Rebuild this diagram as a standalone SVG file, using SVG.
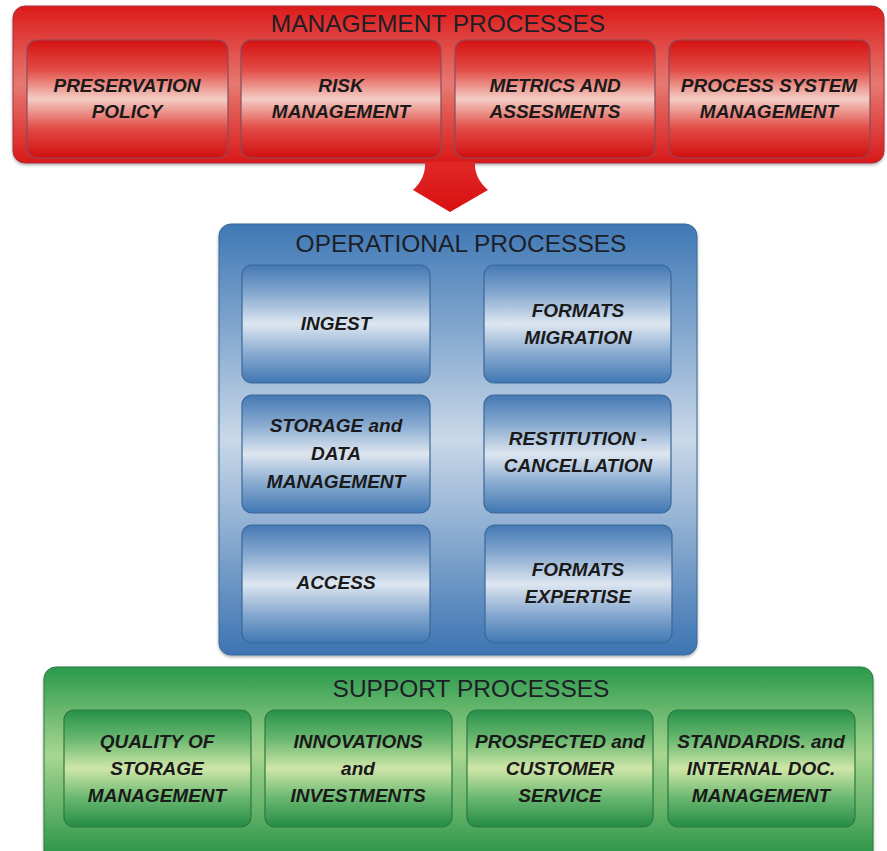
<svg xmlns="http://www.w3.org/2000/svg" width="887" height="851" viewBox="0 0 887 851">
<defs>
<linearGradient id="rOut" x1="0" y1="0" x2="0" y2="1">
<stop offset="0" stop-color="#dc1a1a"/><stop offset="0.5" stop-color="#e67a72"/><stop offset="1" stop-color="#d81818"/>
</linearGradient>
<linearGradient id="rIn" x1="0" y1="0" x2="0" y2="1">
<stop offset="0" stop-color="#d51212"/><stop offset="0.25" stop-color="#e24a44"/><stop offset="0.5" stop-color="#f3cdc4"/><stop offset="0.75" stop-color="#e24a44"/><stop offset="1" stop-color="#d01010"/>
</linearGradient>
<linearGradient id="rArr" x1="0" y1="0" x2="0" y2="1">
<stop offset="0" stop-color="#e02828"/><stop offset="1" stop-color="#d81010"/>
</linearGradient>
<linearGradient id="bOut" x1="0" y1="0" x2="0" y2="1">
<stop offset="0" stop-color="#3f78b5"/><stop offset="0.5" stop-color="#c9d8e8"/><stop offset="1" stop-color="#3c74b2"/>
</linearGradient>
<linearGradient id="bIn" x1="0" y1="0" x2="0" y2="1">
<stop offset="0" stop-color="#4479b4"/><stop offset="0.25" stop-color="#88aad0"/><stop offset="0.5" stop-color="#dde6f0"/><stop offset="0.75" stop-color="#88aad0"/><stop offset="1" stop-color="#4077b3"/>
</linearGradient>
<linearGradient id="gOut" x1="0" y1="0" x2="0" y2="1">
<stop offset="0" stop-color="#2a9a4c"/><stop offset="0.45" stop-color="#a8d690"/><stop offset="1" stop-color="#229043"/>
</linearGradient>
<linearGradient id="gIn" x1="0" y1="0" x2="0" y2="1">
<stop offset="0" stop-color="#27914a"/><stop offset="0.25" stop-color="#6ab870"/><stop offset="0.5" stop-color="#cfe6a8"/><stop offset="0.75" stop-color="#6ab870"/><stop offset="1" stop-color="#248c45"/>
</linearGradient>
<filter id="sh" x="-5%" y="-5%" width="110%" height="115%">
<feDropShadow dx="0" dy="1.5" stdDeviation="1.5" flood-color="#000" flood-opacity="0.35"/>
</filter>
</defs>
<style>
.title{font-family:"Liberation Sans",Arial,sans-serif;font-size:24.5px;fill:#1e1e28;text-anchor:middle}
.lbl{font-family:"Liberation Sans",Arial,sans-serif;font-size:19px;font-weight:bold;font-style:italic;fill:#1a1a1a;text-anchor:middle}
.ri{fill:url(#rIn);stroke:#8c4a5c;stroke-width:1.2}
.bi{fill:url(#bIn);stroke:#3a6898;stroke-width:1.2}
.gi{fill:url(#gIn);stroke:#2a7a42;stroke-width:1.2}
</style>
<rect width="887" height="851" fill="#ffffff"/>

<g id="management">
<rect x="13" y="6" width="871" height="157" rx="12" fill="url(#rOut)" stroke="#a83040" stroke-width="1" filter="url(#sh)"/>
<text class="title" x="438" y="32">MANAGEMENT PROCESSES</text>
</g>
<g id="preservation-policy">
<rect class="ri" x="27" y="40" width="201" height="118" rx="10"/>
<text class="lbl" x="127" y="92">PRESERVATION</text>
<text class="lbl" x="127" y="118">POLICY</text>
</g>
<g id="risk-management">
<rect class="ri" x="241" y="40" width="200" height="118" rx="10"/>
<text class="lbl" x="341" y="92">RISK</text>
<text class="lbl" x="341" y="118">MANAGEMENT</text>
</g>
<g id="metrics">
<rect class="ri" x="455" y="40" width="200" height="118" rx="10"/>
<text class="lbl" x="555" y="92">METRICS AND</text>
<text class="lbl" x="555" y="118">ASSESMENTS</text>
</g>
<g id="process-system">
<rect class="ri" x="669" y="40" width="201" height="118" rx="10"/>
<text class="lbl" x="769" y="92">PROCESS SYSTEM</text>
<text class="lbl" x="769" y="118">MANAGEMENT</text>
</g>

<g id="connectors">
<path d="M425,162 L475,162 Q474,178 488,190 L450,212 L413,190 Q426,178 425,162 Z" fill="url(#rArr)"/>
</g>

<g id="operational">
<rect x="219" y="224" width="478" height="431" rx="12" fill="url(#bOut)" stroke="#3a6898" stroke-width="1" filter="url(#sh)"/>
<text class="title" x="461" y="252">OPERATIONAL PROCESSES</text>
</g>
<g id="ingest">
<rect class="bi" x="242" y="265" width="188" height="118" rx="10"/>
<text class="lbl" x="336" y="330">INGEST</text>
</g>
<g id="formats-migration">
<rect class="bi" x="484" y="265" width="187" height="118" rx="10"/>
<text class="lbl" x="578" y="317">FORMATS</text>
<text class="lbl" x="578" y="344">MIGRATION</text>
</g>
<g id="storage">
<rect class="bi" x="242" y="395" width="188" height="118" rx="10"/>
<text class="lbl" x="336" y="432">STORAGE and</text>
<text class="lbl" x="336" y="460">DATA</text>
<text class="lbl" x="336" y="488">MANAGEMENT</text>
</g>
<g id="restitution">
<rect class="bi" x="484" y="395" width="187" height="118" rx="10"/>
<text class="lbl" x="578" y="445">RESTITUTION -</text>
<text class="lbl" x="578" y="472">CANCELLATION</text>
</g>
<g id="access">
<rect class="bi" x="242" y="525" width="188" height="118" rx="10"/>
<text class="lbl" x="336" y="589">ACCESS</text>
</g>
<g id="formats-expertise">
<rect class="bi" x="485" y="525" width="187" height="118" rx="10"/>
<text class="lbl" x="578" y="576">FORMATS</text>
<text class="lbl" x="578" y="603">EXPERTISE</text>
</g>

<g id="support">
<rect x="44" y="667" width="829" height="196" rx="12" fill="url(#gOut)" stroke="#2a7a42" stroke-width="1" filter="url(#sh)"/>
<text class="title" x="471" y="697">SUPPORT PROCESSES</text>
</g>
<g id="quality">
<rect class="gi" x="64" y="710" width="187" height="117" rx="10"/>
<text class="lbl" x="157" y="748">QUALITY OF</text>
<text class="lbl" x="157" y="775">STORAGE</text>
<text class="lbl" x="157" y="802">MANAGEMENT</text>
</g>
<g id="innovations">
<rect class="gi" x="265" y="710" width="187" height="117" rx="10"/>
<text class="lbl" x="358" y="748">INNOVATIONS</text>
<text class="lbl" x="358" y="775">and</text>
<text class="lbl" x="358" y="802">INVESTMENTS</text>
</g>
<g id="prospected">
<rect class="gi" x="467" y="710" width="186" height="117" rx="10"/>
<text class="lbl" x="560" y="748">PROSPECTED and</text>
<text class="lbl" x="560" y="775">CUSTOMER</text>
<text class="lbl" x="560" y="802">SERVICE</text>
</g>
<g id="standardis">
<rect class="gi" x="668" y="710" width="187" height="117" rx="10"/>
<text class="lbl" x="761" y="748">STANDARDIS. and</text>
<text class="lbl" x="761" y="775">INTERNAL DOC.</text>
<text class="lbl" x="761" y="802">MANAGEMENT</text>
</g>
</svg>
